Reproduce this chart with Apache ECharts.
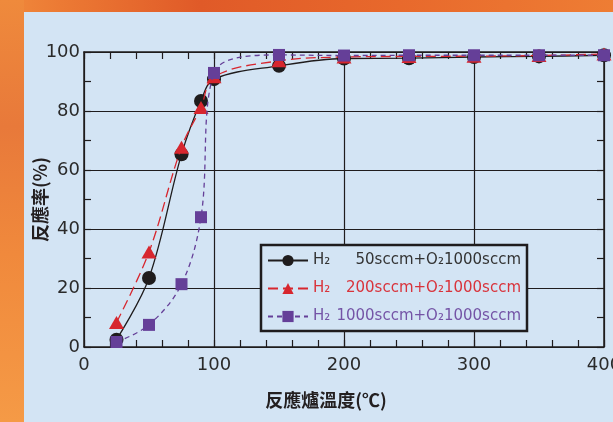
<!DOCTYPE html>
<html>
<head>
<meta charset="utf-8">
<script src="https://cdn.jsdelivr.net/npm/echarts@6/dist/echarts.min.js"></script>
<style>
html,body{margin:0;padding:0;width:613px;height:422px;overflow:hidden;}
body{background:linear-gradient(90deg,#f08a3c 0px,#ec7a34 60px,#e05a28 200px,#e8692c 400px,#ee7d34 613px);}
#left{position:absolute;left:0;top:0;width:24px;height:422px;background:linear-gradient(180deg,#ef8a3c,#e8793a 30%,#f0893c 60%,#f59a46);}
#panel{position:absolute;left:24px;top:12px;width:589px;height:410px;background:#d3e4f4;}
#chart{position:absolute;left:0;top:0;width:613px;height:422px;}
</style>
</head>
<body>
<div id="left"></div>
<div id="panel"></div>
<div id="chart"></div>
<script>
// Data
var temps = [25, 50, 75, 90, 100, 150, 200, 250, 300, 350, 400];
var h50   = [2.5, 23.4, 65.3, 83.4, 90.8, 95.3, 97.8, 97.9, 98.3, 98.5, 98.9];
var h200  = [8.3, 32.2, 67.7, 81.2, 91.6, 97.0, 98.3, 98.5, 98.6, 98.8, 99.3];
var h1000 = [1.7, 7.5, 21.3, 44.0, 92.9, 99.0, 98.8, 98.9, 98.9, 98.9, 98.9];
var seriesNames = ['H50', 'H200', 'H1000'];
var legendValues = ['50sccm+O₂1000sccm', '200sccm+O₂1000sccm', '1000sccm+O₂1000sccm'];
var xTitle = '反應爐溫度(℃)';
var yTitle = '反應率(%)';

function pairs(xs, ys) { return xs.map(function (x, i) { return [x, ys[i]]; }); }

var numFont = '"DejaVu Sans ExtraLight", "DejaVu Sans", sans-serif';
var cjkFont = '"Noto Sans CJK TC", "Noto Sans CJK SC", sans-serif';
var black = '#1f1c1d', red = '#d7262e', purple = '#653f98', panel = '#d3e4f4';

var baseX = {
  type: 'value', min: 0, max: 400, interval: 100,
  axisLine: { show: true, onZero: false, lineStyle: { color: black, width: 1.5 } },
  axisTick: { show: true, inside: true, length: 7, lineStyle: { color: black, width: 1.2 } },
  minorTick: { show: true, splitNumber: 5, length: 7, lineStyle: { color: black, width: 1.2 } },
  splitLine: { show: false }
};
var baseY = {
  type: 'value', min: 0, max: 100, interval: 20,
  axisLine: { show: true, onZero: false, lineStyle: { color: black, width: 1.5 } },
  axisTick: { show: true, inside: true, length: 7, lineStyle: { color: black, width: 1.2 } },
  minorTick: { show: true, splitNumber: 2, length: 7, lineStyle: { color: black, width: 1.2 } },
  splitLine: { show: false }
};

var chart = echarts.init(document.getElementById('chart'), null, { renderer: 'canvas' });
chart.setOption({
  animation: false,
  backgroundColor: 'transparent',
  grid: { left: 84, top: 52, width: 520, height: 295, containLabel: false, outerBoundsMode: 'none' },
  xAxis: [
    Object.assign({}, baseX, {
      position: 'bottom',
      splitLine: { show: true, lineStyle: { color: black, width: 1.2 } },
      axisLabel: { show: true, margin: 9, color: '#2a2a2a', fontSize: 18, fontFamily: numFont, showMaxLabel: true, hideOverlap: false },
      name: xTitle, nameLocation: 'middle', nameGap: 44, nameMoveOverlap: false,
      nameTextStyle: { fontSize: 18, fontWeight: 'bold', color: '#231f20', fontFamily: cjkFont, padding: [0, 36, 0, 0] }
    }),
    Object.assign({}, baseX, { position: 'top', axisLabel: { show: false } })
  ],
  yAxis: [
    Object.assign({}, baseY, {
      position: 'left',
      splitLine: { show: true, lineStyle: { color: black, width: 1.2 } },
      axisLabel: { show: true, margin: 4, color: '#2a2a2a', fontSize: 18, fontFamily: numFont },
      name: yTitle, nameLocation: 'middle', nameGap: 35, nameRotate: 90, nameMoveOverlap: false,
      nameTextStyle: { fontSize: 18, fontWeight: 'bold', color: '#231f20', fontFamily: cjkFont }
    }),
    Object.assign({}, baseY, { position: 'right', axisLabel: { show: false } })
  ],
  legend: {
    orient: 'vertical', left: 261, top: 245,
    padding: [8, 6, 7, 6],
    borderColor: black, borderWidth: 2.5, backgroundColor: panel,
    itemWidth: 40, itemHeight: 14, itemGap: 13,
    data: [
      { name: seriesNames[0], textStyle: { color: '#333333' } },
      { name: seriesNames[1], textStyle: { color: '#d9333b' } },
      { name: seriesNames[2], textStyle: { color: '#7454a6' } }
    ],
    formatter: function (name) {
      var i = seriesNames.indexOf(name);
      return '{h|H₂}{v|' + legendValues[i] + '}';
    },
    textStyle: {
      fontFamily: numFont, fontSize: 15,
      rich: {
        h: { fontFamily: numFont, fontSize: 15, width: 22 },
        v: { fontFamily: numFont, fontSize: 15, width: 186, align: 'right' }
      }
    }
  },
  series: [
    {
      name: seriesNames[0], type: 'line', data: pairs(temps, h50), smooth: 0.35,
      symbol: 'circle', symbolSize: 14, z: 3,
      itemStyle: { color: black },
      lineStyle: { color: black, width: 1.3, type: 'solid' }
    },
    {
      name: seriesNames[1], type: 'line', data: pairs(temps, h200), smooth: 0.35,
      symbol: 'triangle', symbolSize: [15, 13], z: 4,
      itemStyle: { color: red },
      lineStyle: { color: red, width: 1.3, type: [10, 5] }
    },
    {
      name: seriesNames[2], type: 'line', data: pairs(temps, h1000), smooth: 0.35,
      symbol: 'rect', symbolSize: 12, z: 5,
      itemStyle: { color: purple },
      lineStyle: { color: purple, width: 1.3, type: [5, 4] }
    }
  ]
});
</script>
</body>
</html>
